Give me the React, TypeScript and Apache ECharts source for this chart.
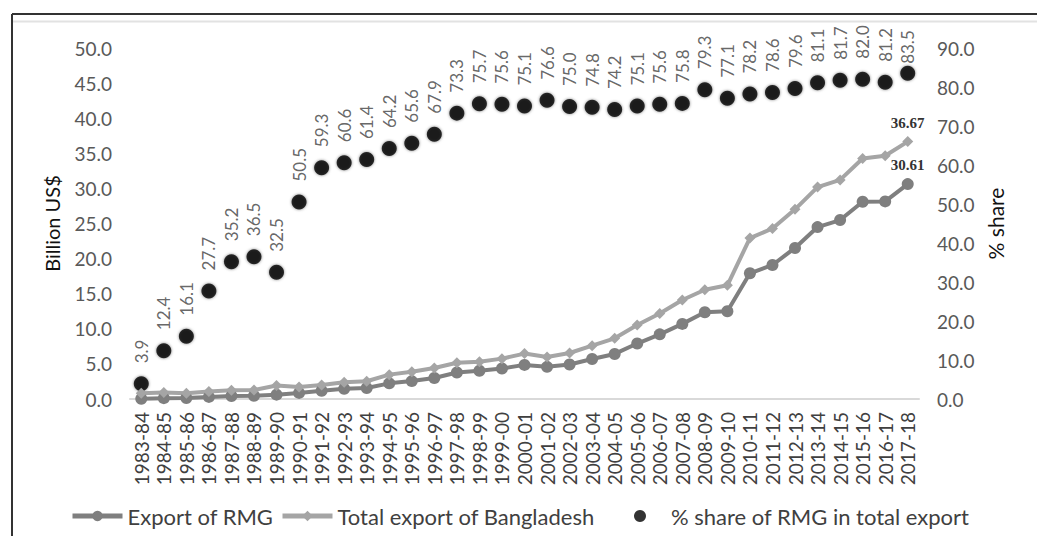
import React, { useEffect, useRef } from "react";
import * as echarts from "echarts";

const years = [
  "1983-84", "1984-85", "1985-86", "1986-87", "1987-88", "1988-89", "1989-90",
  "1990-91", "1991-92", "1992-93", "1993-94", "1994-95", "1995-96", "1996-97",
  "1997-98", "1998-99", "1999-00", "2000-01", "2001-02", "2002-03", "2003-04",
  "2004-05", "2005-06", "2006-07", "2007-08", "2008-09", "2009-10", "2010-11",
  "2011-12", "2012-13", "2013-14", "2014-15", "2015-16", "2016-17", "2017-18",
];

// Billion US$
const rmgExport = [
  0.03, 0.12, 0.13, 0.3, 0.43, 0.47, 0.62, 0.87, 1.18, 1.45, 1.56, 2.23, 2.55,
  3.0, 3.78, 4.02, 4.35, 4.86, 4.58, 4.91, 5.69, 6.42, 7.9, 9.21, 10.7, 12.35,
  12.5, 17.91, 19.09, 21.52, 24.49, 25.49, 28.09, 28.15, 30.61,
];

const totalExport = [
  0.81, 0.93, 0.82, 1.08, 1.23, 1.29, 1.92, 1.72, 1.99, 2.38, 2.53, 3.47, 3.88,
  4.42, 5.16, 5.31, 5.75, 6.47, 5.99, 6.55, 7.6, 8.65, 10.53, 12.18, 14.11,
  15.57, 16.2, 22.92, 24.29, 27.02, 30.19, 31.21, 34.26, 34.66, 36.67,
];

// % share of RMG in total export
const shareRmg = [
  3.9, 12.4, 16.1, 27.7, 35.2, 36.5, 32.5, 50.5, 59.3, 60.6, 61.4, 64.2, 65.6,
  67.9, 73.3, 75.7, 75.6, 75.1, 76.6, 75.0, 74.8, 74.2, 75.1, 75.6, 75.8, 79.3,
  77.1, 78.2, 78.6, 79.6, 81.1, 81.7, 82.0, 81.2, 83.5,
];

const leftTicks = { min: 0, max: 50, interval: 5 };
const rightTicks = { min: 0, max: 90, interval: 10 };

const seriesNames = ["Export of RMG", "Total export of Bangladesh", "% share of RMG in total export"];

const FONT = "Lato, 'Open Sans', sans-serif";

export default function App() {
  const ref = useRef<HTMLDivElement>(null);

  useEffect(() => {
    if (!ref.current) return;
    const chart = echarts.init(ref.current, undefined, { renderer: "svg" });
    const last = years.length - 1;

    const withLastLabel = (arr: number[]) =>
      arr.map((v, i) =>
        i === last
          ? {
              value: v,
              label: {
                show: true,
                position: "top",
                distance: 6,
                formatter: v.toFixed(2),
                fontFamily: "'Liberation Serif', serif",
                fontWeight: "bold",
                fontSize: 15,
                color: "#333333",
              },
            }
          : v
      );

    const shareLabel = {
      show: true,
      position: "top",
      distance: 13,
      rotate: 90,
      align: "left",
      verticalAlign: "middle",
      fontSize: 17,
      color: "#404040",
      fontFamily: FONT,
      formatter: (p: any) => Number(p.value).toFixed(1),
    };

    const shareData = shareRmg.map((v, i) =>
      i === last ? { value: v, label: { ...shareLabel, offset: [-11, 0] } } : v
    );

    const legendBase = {
      top: 505,
      padding: 0,
      itemHeight: 13,
      textStyle: { fontSize: 22, color: "#404040", fontFamily: FONT },
    };

    chart.setOption({
      animation: false,
      backgroundColor: "#ffffff",
      textStyle: { fontFamily: FONT },
      grid: { left: 130, right: 118, top: 48, bottom: 137 },
      graphic: [
        {
          type: "line",
          shape: { x1: 12, y1: 14, x2: 1037, y2: 14 },
          style: { stroke: "#333333", lineWidth: 2 },
        },
        {
          type: "line",
          shape: { x1: 12, y1: 14, x2: 12, y2: 536 },
          style: { stroke: "#333333", lineWidth: 2 },
        },
        {
          type: "line",
          shape: { x1: 13, y1: 21.5, x2: 1037, y2: 21.5 },
          style: { stroke: "#e2e2e2", lineWidth: 2 },
        },
      ],
      legend: [
        { ...legendBase, left: 70, itemWidth: 50, data: [seriesNames[0]], lineStyle: { width: 5 } },
        { ...legendBase, left: 280, itemWidth: 50, data: [seriesNames[1]], lineStyle: { width: 5 } },
        { ...legendBase, left: 634, itemWidth: 52, itemHeight: 12, data: [seriesNames[2]] },
      ],
      xAxis: {
        type: "category",
        data: years,
        boundaryGap: true,
        axisLine: { show: true, lineStyle: { color: "#d9d9d9", width: 2 } },
        axisTick: { show: false },
        axisLabel: {
          rotate: 90,
          interval: 0,
          margin: 13,
          fontSize: 19,
          color: "#404040",
          fontFamily: FONT,
        },
      },
      yAxis: [
        {
          type: "value",
          ...leftTicks,
          name: "Billion US$",
          nameLocation: "middle",
          nameRotate: 90,
          nameGap: 68,
          nameTextStyle: { fontSize: 20, color: "#111111", fontFamily: FONT },
          axisLine: { show: false },
          axisTick: { show: false },
          splitLine: { show: false },
          axisLabel: {
            margin: 18,
            fontSize: 19,
            color: "#595959",
            fontFamily: FONT,
            formatter: (v: number) => v.toFixed(1),
          },
        },
        {
          type: "value",
          ...rightTicks,
          position: "right",
          name: "% share",
          nameLocation: "middle",
          nameRotate: 90,
          nameGap: 66,
          nameTextStyle: { fontSize: 21, color: "#111111", fontFamily: FONT },
          axisLine: { show: false },
          axisTick: { show: false },
          splitLine: { show: false },
          axisLabel: {
            margin: 18,
            fontSize: 19,
            color: "#595959",
            fontFamily: FONT,
            formatter: (v: number) => v.toFixed(1),
          },
        },
      ],
      series: [
        {
          name: seriesNames[0],
          type: "line",
          yAxisIndex: 0,
          data: withLastLabel(rmgExport),
          symbol: "circle",
          symbolSize: 12,
          lineStyle: { color: "#7f7f7f", width: 4 },
          itemStyle: { color: "#7f7f7f" },
        },
        {
          name: seriesNames[1],
          type: "line",
          yAxisIndex: 0,
          data: withLastLabel(totalExport),
          symbol: "diamond",
          symbolSize: 11,
          lineStyle: { color: "#a5a5a5", width: 4 },
          itemStyle: { color: "#a5a5a5" },
        },
        {
          name: seriesNames[2],
          type: "scatter",
          yAxisIndex: 1,
          data: shareData,
          symbol: "circle",
          symbolSize: 15,
          itemStyle: {
            color: "#000000",
            shadowBlur: 3,
            shadowColor: "rgba(0,0,0,0.6)",
          },
          label: shareLabel,
        },
      ],
    });

    return () => chart.dispose();
  }, []);

  return (
    <div
      ref={ref}
      style={{ position: "absolute", left: 0, top: 0, width: 1037, height: 536 }}
    />
  );
}
